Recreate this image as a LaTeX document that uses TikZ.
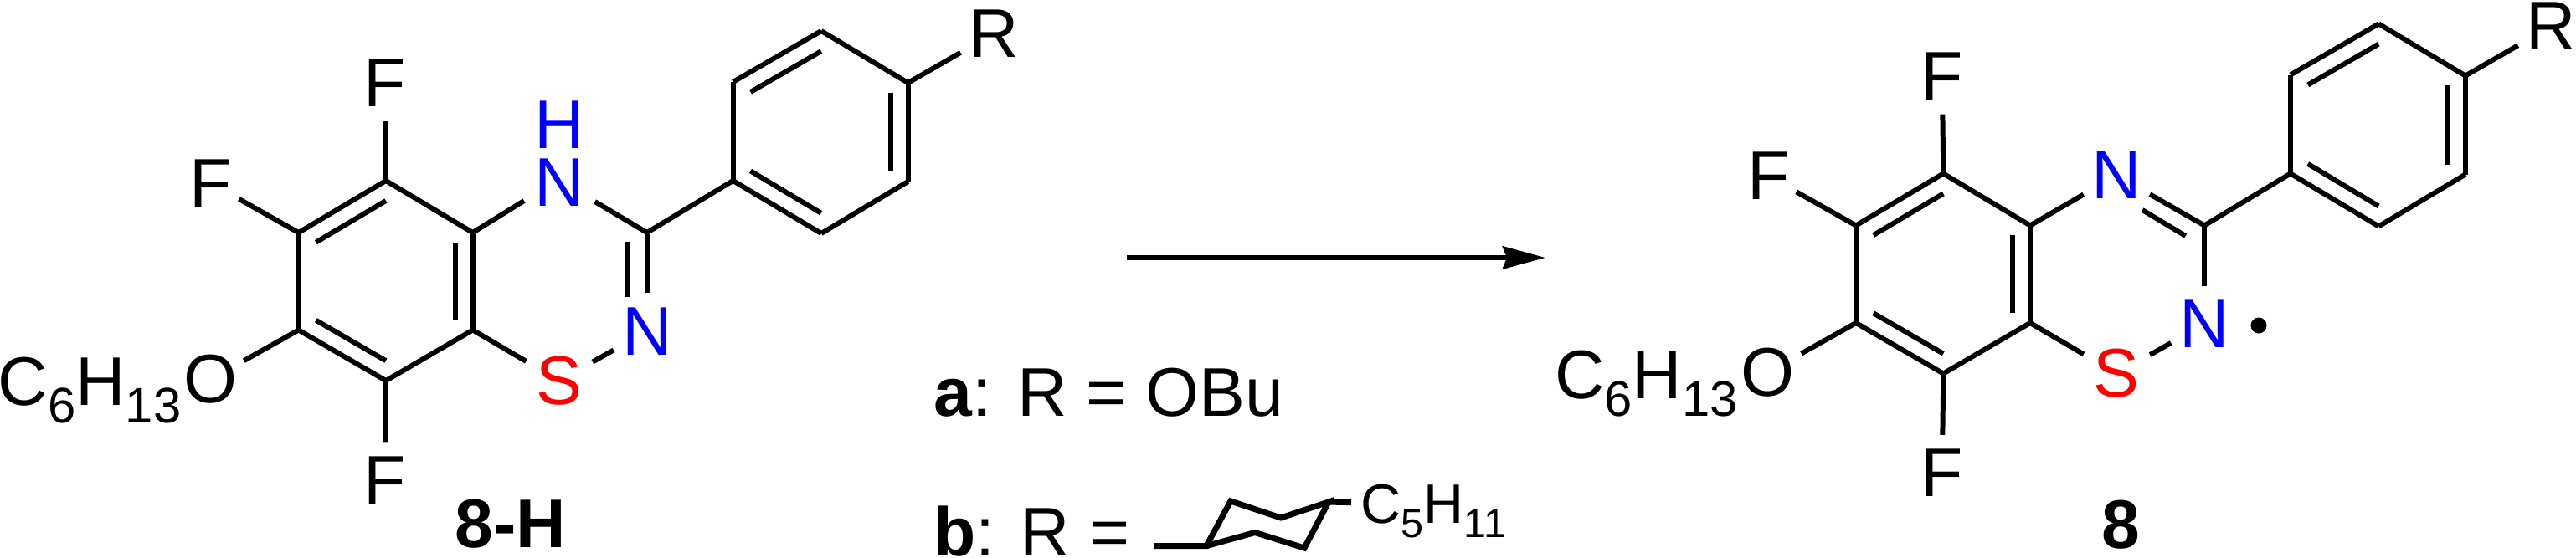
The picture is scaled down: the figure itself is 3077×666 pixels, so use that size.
\documentclass[tikz,border=0pt]{standalone}
\usepackage{fontspec}
\setmainfont{Liberation Sans}
\usetikzlibrary{calc,arrows.meta}
\definecolor{nblue}{RGB}{0,0,255}
\definecolor{sred}{RGB}{255,0,0}
\tikzstyle{atom}=[circle,inner sep=0pt,minimum size=0.9cm,font=\fontsize{23.4}{28}\selectfont]
\tikzstyle{smallatom}=[atom,minimum size=0.58cm]
\tikzstyle{label}=[inner sep=0pt,anchor=base west,font=\fontsize{23.4}{28}\selectfont]
\tikzstyle{bond}=[line width=1.7pt]
\newcommand{\lowered}[1]{\raisebox{-0.21cm}{\fontsize{17}{20}\selectfont #1}}
\newcommand{\lowsmall}[1]{\raisebox{-0.17cm}{\fontsize{13.8}{16}\selectfont #1}}
% ring skeleton shared by both molecules, #1 is the name prefix
\newcommand{\skeleton}[1]{
  \coordinate (#1a1) at (461,216);
  \coordinate (#1a2) at (356.6,278);
  \coordinate (#1a3) at (356.6,394.5);
  \coordinate (#1a4) at (461,455);
  \coordinate (#1a5) at (564.7,394.5);
  \coordinate (#1a6) at (564.7,278);
  \coordinate (#1ac) at (460.6,336);
  \coordinate (#1c3) at (772.8,278);
  \coordinate (#1p1) at (875.6,216);
  \coordinate (#1p2) at (875.6,98);
  \coordinate (#1p3) at (981,37);
  \coordinate (#1p4) at (1084.6,99);
  \coordinate (#1p5) at (1084.6,217);
  \coordinate (#1p6) at (981,279);
  \coordinate (#1pc) at (980,158);
  \node[atom] (#1ftop) at (459.5,99.5) {F};
  \node[smallatom] (#1fleft) at (252,219) {F};
  \node[atom] (#1fbot) at (459.5,574) {F};
  \node[atom] (#1o) at (251.5,453.5) {O};
  \node[atom] (#1r) at (1187,40) {R};
  \node[atom,text=sred] (#1s) at (668,455) {S};
  \node[atom,text=nblue] (#1n2) at (772.8,396) {N};
  \path[bond]
    (#1a1) edge (#1a2)
    (#1a2) edge (#1a3)
    (#1a3) edge (#1a4)
    (#1a4) edge (#1a5)
    (#1a5) edge (#1a6)
    (#1a6) edge (#1a1)
    (#1c3) edge (#1p1)
    (#1p1) edge (#1p2)
    (#1p2) edge (#1p3)
    (#1p3) edge (#1p4)
    (#1p4) edge (#1p5)
    (#1p5) edge (#1p6)
    (#1p6) edge (#1p1)
    (#1a1) edge (#1ftop)
    (#1a2) edge (#1fleft)
    (#1a4) edge (#1fbot)
    (#1a3) edge (#1o)
    (#1p4) edge (#1r)
    (#1a5) edge (#1s)
    (#1s) edge (#1n2)
    (#1c3) edge (#1n2);
  \draw[bond] ($(#1a1)!.2!(#1ac)$) -- ($(#1a2)!.2!(#1ac)$);
  \draw[bond] ($(#1a3)!.2!(#1ac)$) -- ($(#1a4)!.2!(#1ac)$);
  \draw[bond] ($(#1a5)!.2!(#1ac)$) -- ($(#1a6)!.2!(#1ac)$);
  \draw[bond] ($(#1p1)!.2!(#1pc)$) -- ($(#1p6)!.2!(#1pc)$);
  \draw[bond] ($(#1p2)!.2!(#1pc)$) -- ($(#1p3)!.2!(#1pc)$);
  \draw[bond] ($(#1p4)!.2!(#1pc)$) -- ($(#1p5)!.2!(#1pc)$);
}
\begin{document}
\begin{tikzpicture}[x=0.01cm,y=-0.01cm]
  \useasboundingbox (0,0) rectangle (3077,666);
  % starting material
  \skeleton{l}
  \node[atom,minimum size=0.5cm,text=nblue] (ln1) at (668.5,218) {N};
  \node[atom,minimum size=0pt,text=nblue] (lh) at (668.5,149.5) {H};
  \coordinate (lnw) at (626,240);
  \coordinate (lne) at (710.6,241);
  \draw[bond] (la6) -- (lnw);
  \draw[bond] (lne) -- (lc3);
  \coordinate (lc3in) at (750.4,289);
  \coordinate (ln2in) at (750.4,355);
  \draw[bond] (lc3in) -- (ln2in);
  \node[label] (lchain) at (-3,484) {C\lowered{6}H\lowered{13}};
  \node[label,font=\fontsize{23.4}{28}\selectfont\bfseries] (lname) at (543,654) {8-H};
  % arrow and substituents
  \coordinate (arstart) at (1346,308);
  \coordinate (arend) at (1846,308);
  \draw[bond,-{Stealth[length=0.51cm,width=0.27cm,inset=0.05cm]}] (arstart) -- (arend);
  \node[label] (suba) at (1115,497) {\textbf{a}: R = OBu};
  \node[label] (subb) at (1114.5,664) {\textbf{b}: R =};
  \coordinate (cy0) at (1379,652.6);
  \coordinate (cya) at (1441,652.6);
  \coordinate (cyb) at (1470,599);
  \coordinate (cyc) at (1530,619);
  \coordinate (cyd) at (1587,600);
  \coordinate (cye) at (1558,655);
  \coordinate (cyf) at (1499,636.5);
  \coordinate (cyg) at (1614,600.7);
  \draw[line width=2pt,line join=miter] (cy0) -- (cya) -- (cyb) -- (cyc) -- (cyd) -- (cye) -- (cyf) -- (cya);
  \draw[line width=2pt] (cyd) -- (cyg);
  \node[label,font=\fontsize{18.9}{22}\selectfont] (pentyl) at (1625,625) {C\lowsmall{5}H\lowsmall{11}};
  % radical
  \begin{scope}[shift={(1860.3,-8.5)}]
    \skeleton{r}
    \node[atom,text=nblue] (rn1) at (668,218) {N};
    \path[bond]
      (ra6) edge (rn1)
      (rn1) edge (rc3);
    \coordinate (rn1in) at (698.7,259.5);
    \coordinate (rc3in) at (750.3,290.5);
    \draw[bond] (rn1in) -- (rc3in);
    \node[circle,fill=black,inner sep=0pt,minimum size=0.19cm] (rdot) at (837.7,397.5) {};
    \node[label] (rchain) at (-4,485) {C\lowered{6}H\lowered{13}};
    \node[label,font=\fontsize{23.4}{28}\selectfont\bfseries] (rname) at (649,663.5) {8};
  \end{scope}
\end{tikzpicture}
\end{document}
